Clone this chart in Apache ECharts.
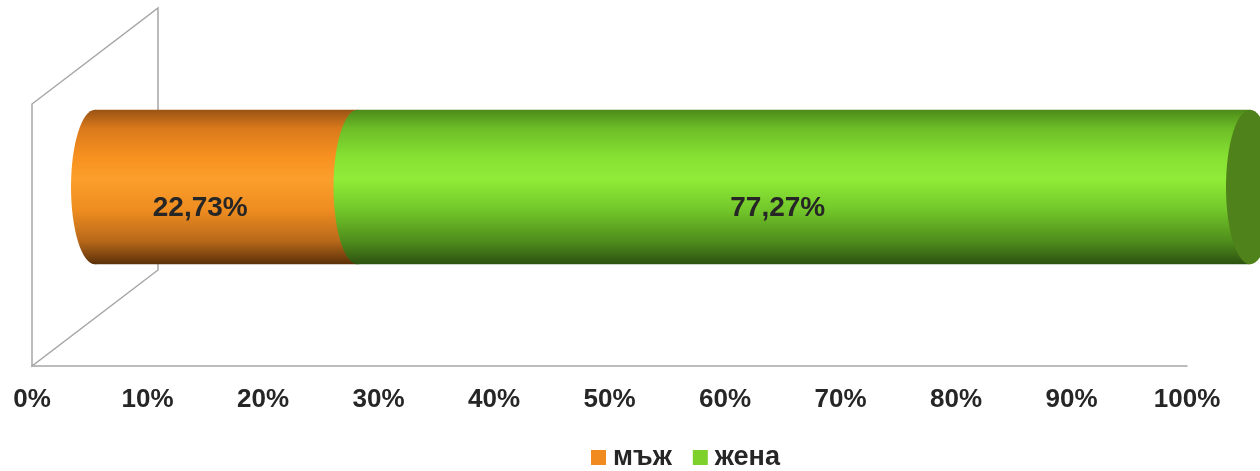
<!DOCTYPE html>
<html><head><meta charset="utf-8">
<script src="https://cdn.jsdelivr.net/npm/echarts@6/dist/echarts.min.js"></script>
<style>html,body{margin:0;padding:0;background:#fff}#c{width:1260px;height:471px}</style>
</head><body><div id="c"></div>
<script>
var seriesNames = ['мъж', 'жена'];
var seriesValues = [22.73, 77.27];
var valueLabels = ['22,73%', '77,27%'];
var tickValues = [0, 10, 20, 30, 40, 50, 60, 70, 80, 90, 100];

var DEPTH_X = 126, DEPTH_Y = -96;
var FONT = '"Liberation Sans", Arial, sans-serif';

function grad(stops) {
  return new echarts.graphic.LinearGradient(0, 0, 0, 1, stops.map(function (s) { return { offset: s[0], color: s[1] }; }));
}
var gradients = [
  grad([[0, '#9a5314'], [0.12, '#d9791c'], [0.3, '#f7901f'], [0.45, '#fb9f2b'], [0.65, '#ee8c20'], [0.85, '#b8681a'], [1, '#5a3008']]),
  grad([[0, '#4d8a1a'], [0.12, '#6cbd27'], [0.3, '#86e032'], [0.45, '#8fec37'], [0.65, '#72c62a'], [0.85, '#4f8d1c'], [1, '#2d5210']])
];
var legendColors = ['#f28b1f', '#7ed12a'];
var capColor = '#4f821a';

var starts = [];
(function () { var acc = 0; for (var i = 0; i < seriesValues.length; i++) { starts.push(acc); acc += seriesValues[i]; } })();

var chart = echarts.init(document.getElementById('c'), null, { renderer: 'canvas' });

function wallRender(params, api) {
  var cs = params.coordSys;
  var x0 = cs.x, y0 = cs.y, h = cs.height;
  return {
    type: 'polygon', silent: true,
    shape: { points: [[x0, y0 + h], [x0, y0], [x0 + DEPTH_X, y0 + DEPTH_Y], [x0 + DEPTH_X, y0 + h + DEPTH_Y]] },
    style: { fill: 'none', stroke: '#a6a6a6', lineWidth: 1.5 }
  };
}

function makeRender(idx) {
  return function (params, api) {
    var s = api.value(0), e = api.value(1);
    var p0 = api.coord([s, 0]);
    var p1 = api.coord([e, 0]);
    var band = api.size([0, 1])[1];
    var hh = band * 0.295;
    var ox = DEPTH_X / 2, oy = DEPTH_Y / 2;
    var x0 = p0[0] + ox, x1 = p1[0] + ox, cy = p0[1] + oy;
    var rx = 24;
    var children = [
      { type: 'rect', shape: { x: x0, y: cy - hh, width: x1 - x0, height: hh * 2 }, style: { fill: gradients[idx] } },
      { type: 'ellipse', shape: { cx: x0, cy: cy, rx: rx, ry: hh }, style: { fill: gradients[idx] } }
    ];
    if (idx === seriesValues.length - 1) {
      children.push({ type: 'ellipse', shape: { cx: x1, cy: cy, rx: rx, ry: hh }, style: { fill: capColor } });
    }
    children.push({
      type: 'text',
      style: {
        text: valueLabels[idx], x: (x0 + x1) / 2 - 26, y: cy + 21,
        align: 'center', verticalAlign: 'middle',
        font: 'bold 28px ' + FONT, fill: '#262626'
      }
    });
    return { type: 'group', children: children };
  };
}

var series = [{
  type: 'custom', name: '_wall', renderItem: wallRender, data: [[0, 0]], silent: true, z: 1,
  encode: { x: 0, y: 1 }
}];
for (var i = 0; i < seriesValues.length; i++) {
  series.push({
    type: 'custom', name: seriesNames[i], renderItem: makeRender(i),
    data: [[starts[i], starts[i] + seriesValues[i]]],
    encode: { x: [0, 1] }, itemStyle: { color: legendColors[i] }, z: 2 + i
  });
}

chart.setOption({
  animation: false,
  backgroundColor: '#fff',
  grid: { left: 32, top: 104, width: 1155, height: 262 },
  xAxis: {
    type: 'value', min: tickValues[0], max: tickValues[tickValues.length - 1], interval: 10,
    axisLine: { show: true, lineStyle: { color: '#a6a6a6', width: 1.5 } },
    axisTick: { show: false }, splitLine: { show: false },
    axisLabel: { formatter: '{value}%', margin: 21, fontSize: 26, fontWeight: 'bold', color: '#262626', fontFamily: FONT }
  },
  yAxis: { type: 'category', data: [''], show: false },
  legend: {
    data: seriesNames.map(function (n, i) { return { name: n, icon: 'rect', itemStyle: { color: legendColors[i] } }; }),
    left: 586, top: 439, itemWidth: 15, itemHeight: 15, itemGap: 21,
    textStyle: { fontSize: 27, fontWeight: 'bold', color: '#262626', fontFamily: FONT, padding: [0, 0, 0, 2] }
  },
  series: series
});
</script></body></html>
